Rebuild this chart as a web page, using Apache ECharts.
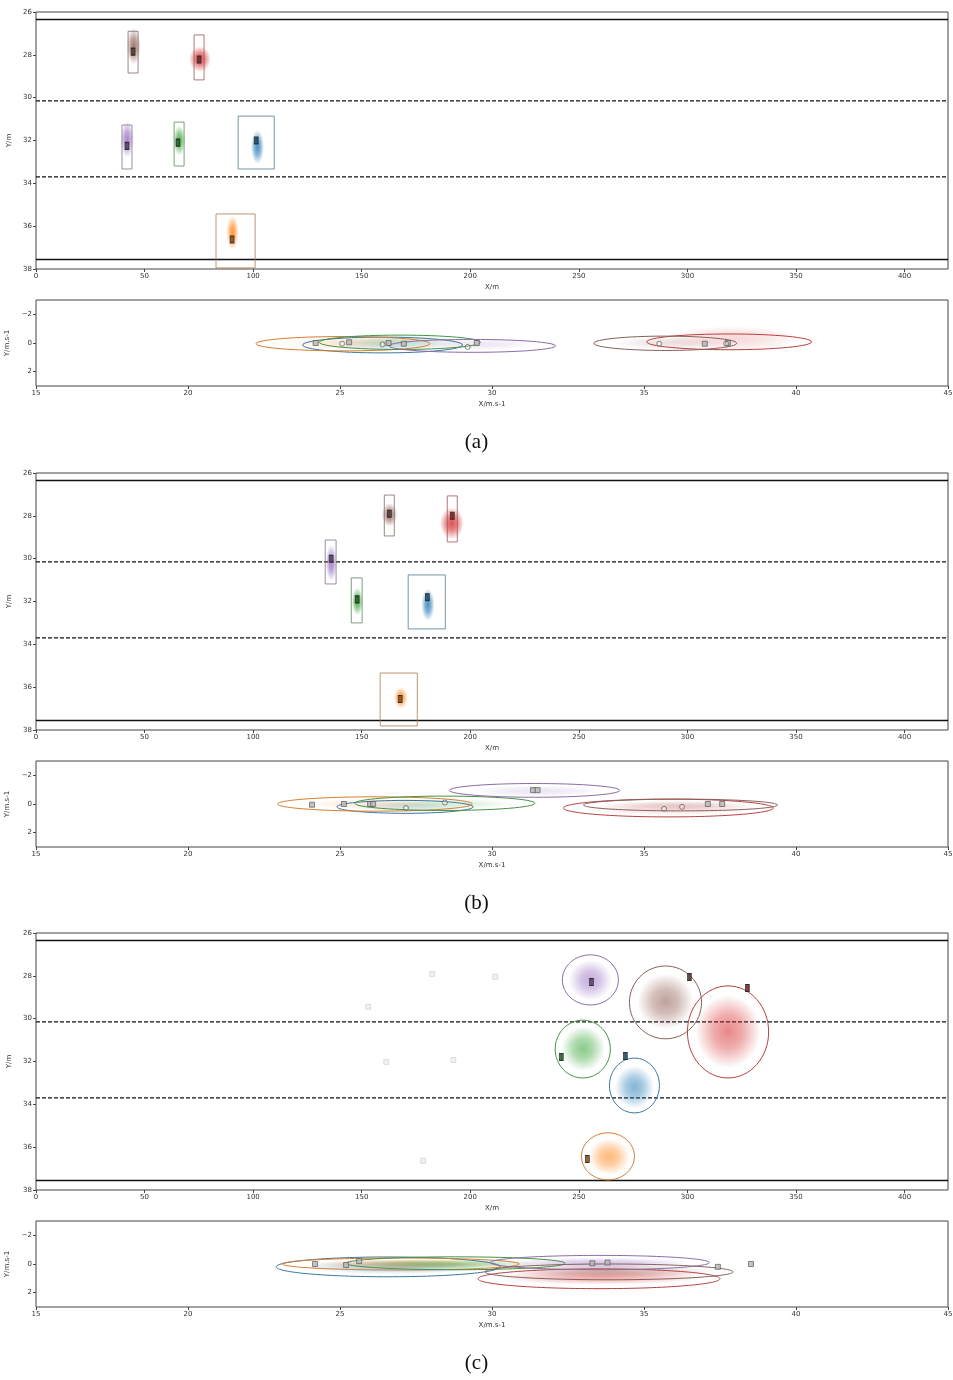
<!DOCTYPE html>
<html><head><meta charset="utf-8">
<script src="https://cdn.jsdelivr.net/npm/echarts@6/dist/echarts.min.js"></script>
<style>html,body{margin:0;padding:0;background:#fff}#c{width:953px;height:1380px}</style>
</head><body><div id="c"></div><script>
// ---------- data ----------
const objectNames  = ['blue','orange','green','red','purple','brown'];
const objectColors = ['#1f77b4','#ff7f0e','#2ca02c','#d62728','#9467bd','#8c564b'];
const panelCaptions = ['(a)','(b)','(c)'];
const posXRange = [0, 420];
const posYRange = [26, 38];
const velXRange = [15, 45];
const velYRange = [-3, 3];
const velYTicks = [-2, 0, 2];
const laneSolid  = [26.35, 37.56];
const laneDashed = [30.15, 33.70];

// panel (a) : positions (objectNames order)
const aPosTruth = [[101.4,32.0],[90.3,36.62],[65.4,32.1],[75.1,28.22],[41.9,32.25],[44.7,27.85]];
const aPosBoxes = [[93.1,109.7,30.86,33.33],[82.9,100.9,35.43,37.95],[63.6,68.2,31.14,33.19],[72.8,77.4,27.07,29.17],[39.6,44.2,31.28,33.33],[42.4,47.0,26.9,28.85]];
const aPosCloud = [[102,32.3,3.0,0.8],[90.5,36.3,2.8,0.8],[66,32.0,2.8,0.7],[75.5,28.2,5.0,0.6],[42,31.95,3.0,0.85],[45,27.6,3.2,0.85]];
// panel (a) : velocities
const aVelEllipses = [[26.4,0.14,2.63,0.55],[25.1,0.05,2.86,0.5],[26.97,-0.05,2.65,0.5],[37.8,-0.08,2.71,0.55],[29.35,0.2,2.74,0.45],[35.7,0.02,2.35,0.5]];
const aVelCloud = [[26.6,0.1,2.0,0.5],[25.3,0.0,2.2,0.45],[27.0,-0.1,2.0,0.5],[37.9,-0.3,2.2,0.9],[29.5,0.1,2.0,0.4],[35.8,0.0,1.8,0.45]];
const aVelSquares = [[24.2,0.0],[25.3,-0.05],[26.6,0.0],[27.1,0.05],[29.5,0.0],[37.0,0.05],[37.76,0.0]];
const aVelCircles = [[25.07,0.05],[26.4,0.1],[29.2,0.28],[35.5,0.05],[37.7,0.05]];

// panel (b)
const bPosTruth = [[180.2,31.8],[167.7,36.55],[147.9,31.9],[191.7,28.0],[135.9,30.0],[162.7,27.9]];
const bPosBoxes = [[171.4,188.5,30.76,33.28],[158.5,175.6,35.34,37.81],[145.2,150.2,30.9,33.0],[189.4,194.0,27.07,29.22],[133.2,138.2,29.13,31.18],[160.4,165.0,27.03,28.94]];
const bPosCloud = [[180.5,32.15,3.0,0.75],[168,36.5,3.2,0.5],[148,32.0,2.6,0.65],[191.5,28.35,5.5,0.75],[136,30.2,2.6,0.85],[162.8,27.95,3.6,0.55]];
const bVelEllipses = [[27.14,0.2,2.24,0.45],[26.15,0.0,3.2,0.5],[28.45,-0.05,2.96,0.5],[35.8,0.28,3.45,0.62],[31.4,-0.95,2.8,0.48],[36.2,0.07,3.19,0.41]];
const bVelCloud = [[27.2,0.2,1.8,0.4],[26.2,0.0,2.4,0.4],[28.5,0.0,2.3,0.4],[35.9,0.3,2.8,0.5],[31.5,-0.9,2.2,0.4],[36.2,0.1,2.5,0.35]];
const bVelSquares = [[24.08,0.05],[25.13,0.0],[25.99,0.0],[26.09,0.0],[31.35,-0.97],[31.5,-0.97],[37.1,0.0],[37.57,0.0]];
const bVelCircles = [[27.17,0.28],[28.45,-0.1],[35.66,0.34],[36.25,0.2]];

// panel (c)
const cPosTruth = [[271.4,31.74],[253.9,36.55],[241.9,31.79],[327.6,28.57],[255.8,28.29],[300.9,28.05]];
const cPosEllipses = [[275.6,33.12,11.5,1.28],[263.4,36.43,12.2,1.10],[251.8,31.42,12.7,1.35],[318.7,30.62,18.7,2.15],[255.3,28.19,12.9,1.17],[289.9,29.24,16.6,1.70]];
const cPosCloud = [[275.6,33.2,9,1.0],[264,36.45,9.5,0.85],[252,31.4,10,1.05],[318.7,30.6,15,1.7],[255.3,28.2,10,0.95],[289.9,29.2,13,1.3]];
const cPosGhosts = [[182.5,27.91],[211.5,28.05],[153,29.45],[161.3,32.02],[192.2,31.93],[178.3,36.64]];
const cVelEllipses = [[26.58,0.2,3.68,0.69],[27.0,0.0,3.9,0.42],[28.8,-0.05,3.6,0.45],[33.52,1.03,3.98,0.69],[33.55,-0.1,3.6,0.5],[33.85,0.55,4.08,0.55]];
const cVelCloud = [[26.8,0.2,3.0,0.5],[27.2,0.0,3.2,0.35],[28.6,0.0,3.0,0.35],[33.6,0.9,3.4,0.55],[33.5,-0.05,3.0,0.4],[33.9,0.5,3.4,0.45]];
const cVelSquares = [[24.18,0.0],[25.2,0.07],[25.63,-0.2],[33.3,-0.05],[33.8,-0.1],[37.43,0.2],[38.52,0.0]];

// ---------- helpers ----------
function hexRgb(h){h=h.replace('#','');return [parseInt(h.substr(0,2),16),parseInt(h.substr(2,2),16),parseInt(h.substr(4,2),16)];}
function rgba(h,a){const c=hexRgb(h);return 'rgba('+c[0]+','+c[1]+','+c[2]+','+a+')';}
function mixTo(h,t,g){const c=hexRgb(h);return 'rgb('+c.map((v,i)=>Math.round(v*t+g[i]*(1-t))).join(',')+')';}
function mixGray(h,t){return mixTo(h,t,[120,120,120]);}

const panelTops = [12, 473, 933];
const posH = 257, velGap = 288, velH = 86, gLeft = 36, gWidth = 912;

const grids=[], xAxes=[], yAxes=[], series=[], titles=[];
const tickLbl = {fontSize:7, color:'#333', fontFamily:'DejaVu Sans', margin:4};
const nameStyle = {fontSize:7, color:'#333', fontFamily:'DejaVu Sans'};
function minus(v){return String(v).replace('-','\u2212');}

function addAxes(gi, isPos){
  grids.push({left:gLeft, width:gWidth, top: isPos? panelTops[Math.floor(gi/2)] : panelTops[Math.floor(gi/2)]+velGap, height: isPos? posH: velH,
    show:true, borderColor:'#444', borderWidth:1, backgroundColor:'transparent', containLabel:false, outerBoundsMode:'none'});
  const tick = {show:true, inside:false, length:3, lineStyle:{color:'#444'}};
  if(isPos){
    xAxes.push({gridIndex:gi, type:'value', min:posXRange[0], max:posXRange[1], interval:50, name:'X/m', nameLocation:'middle', nameGap:15, nameTextStyle:nameStyle,
      axisLine:{show:false, onZero:false}, axisTick:tick, splitLine:{show:false},
      axisLabel:Object.assign({showMaxLabel:false}, tickLbl)});
    yAxes.push({gridIndex:gi, type:'value', inverse:true, min:posYRange[0], max:posYRange[1], interval:2, name:'Y/m', nameLocation:'middle', nameGap:21, nameTextStyle:nameStyle,
      axisLine:{show:false, onZero:false}, axisTick:tick, splitLine:{show:false}, axisLabel:tickLbl});
  } else {
    xAxes.push({gridIndex:gi, type:'value', min:velXRange[0], max:velXRange[1], interval:5, name:'X/m.s-1', nameLocation:'middle', nameGap:15, nameTextStyle:nameStyle,
      axisLine:{show:false, onZero:false}, axisTick:tick, splitLine:{show:false}, axisLabel:tickLbl});
    yAxes.push({gridIndex:gi, type:'value', inverse:true, min:velYRange[0], max:velYRange[1], interval:1, name:'Y/m.s-1', nameLocation:'middle', nameGap:21, nameTextStyle:nameStyle,
      axisLine:{show:false, onZero:false}, axisTick:Object.assign({customValues:velYTicks}, tick), splitLine:{show:false},
      axisLabel:Object.assign({customValues:velYTicks, formatter:minus}, tickLbl)});
  }
}

function laneSeries(gi){
  const data = laneSolid.map(y=>[y,0]).concat(laneDashed.map(y=>[y,1]));
  return {type:'custom', xAxisIndex:gi, yAxisIndex:gi, silent:true, z:1, data:data, encode:{y:0},
    renderItem:(p,api)=>{const cs=p.coordSys; const y=api.coord([0,api.value(0)])[1]; const dashed=api.value(1)===1;
      return {type:'line', shape:{x1:cs.x, y1:y, x2:cs.x+cs.width, y2:y}, style:{stroke:'#111', lineWidth:dashed?1.2:1.5, lineDash:dashed?[4,2]:null}};}};
}
function cloudSeries(gi, arr, alpha){
  return {type:'custom', xAxisIndex:gi, yAxisIndex:gi, silent:true, z:2, data:arr.map((d,i)=>d.concat([i])),
    renderItem:(p,api)=>{const c=api.coord([api.value(0),api.value(1)]); const e=api.coord([api.value(0)+api.value(2),api.value(1)+api.value(3)]);
      const col=objectColors[api.value(4)];
      const rx=Math.max(1,Math.abs(e[0]-c[0])), ry=Math.max(1,Math.abs(e[1]-c[1]));
      return {type:'circle', x:c[0], y:c[1], scaleX:1, scaleY:ry/rx, shape:{cx:0, cy:0, r:rx},
        style:{fill:{type:'radial', x:0.5, y:0.5, r:0.5, colorStops:[{offset:0,color:rgba(col,alpha)},{offset:0.45,color:rgba(col,alpha*0.7)},{offset:1,color:rgba(col,0)}]}}};}};
}
function ellipseSeries(gi, arr, lw){
  return {type:'custom', xAxisIndex:gi, yAxisIndex:gi, silent:true, z:3, data:arr.map((d,i)=>d.concat([i])),
    renderItem:(p,api)=>{const c=api.coord([api.value(0),api.value(1)]); const e=api.coord([api.value(0)+api.value(2),api.value(1)+api.value(3)]);
      const col=objectColors[api.value(4)];
      return {type:'ellipse', shape:{cx:c[0], cy:c[1], rx:Math.abs(e[0]-c[0]), ry:Math.abs(e[1]-c[1])},
        style:{fill:'none', stroke:mixGray(col,0.7), lineWidth:lw}};}};
}
function boxSeries(gi, arr){
  return {type:'custom', xAxisIndex:gi, yAxisIndex:gi, silent:true, z:3, data:arr.map((d,i)=>d.concat([i])),
    renderItem:(p,api)=>{const a=api.coord([api.value(0),api.value(2)]); const b=api.coord([api.value(1),api.value(3)]);
      const col=objectColors[api.value(4)];
      return {type:'rect', shape:{x:Math.min(a[0],b[0]), y:Math.min(a[1],b[1]), width:Math.abs(b[0]-a[0]), height:Math.abs(b[1]-a[1])},
        style:{fill:'none', stroke:mixGray(col,0.4), lineWidth:0.8}};}};
}
function truthSeries(gi, arr){
  return {type:'scatter', xAxisIndex:gi, yAxisIndex:gi, silent:true, z:5, symbol:'rect', symbolSize:[4,7],
    data:arr.map((d,i)=>({value:d, itemStyle:{color:mixTo(objectColors[i],0.45,[40,40,40]), borderColor:'#222', borderWidth:0.8, opacity:0.9}}))};
}
function markerSeries(gi, arr, sym, op){
  return {type:'scatter', xAxisIndex:gi, yAxisIndex:gi, silent:true, z:6, symbol:sym, symbolSize:5,
    data:arr, itemStyle:{color: sym==='rect'?'#b8b8b8':'rgba(255,255,255,0.3)', borderColor:'#555', borderWidth:0.8, opacity:op}};
}

// build panels
const P = [
  {posTruth:aPosTruth, boxes:aPosBoxes, posCloud:aPosCloud, velEll:aVelEllipses, velCloud:aVelCloud, sq:aVelSquares, ci:aVelCircles},
  {posTruth:bPosTruth, boxes:bPosBoxes, posCloud:bPosCloud, velEll:bVelEllipses, velCloud:bVelCloud, sq:bVelSquares, ci:bVelCircles},
  {posTruth:cPosTruth, ellipses:cPosEllipses, posCloud:cPosCloud, ghosts:cPosGhosts, velEll:cVelEllipses, velCloud:cVelCloud, sq:cVelSquares, ci:[]}
];
P.forEach((pn,k)=>{
  const gp=2*k, gv=2*k+1;
  addAxes(gp,true); addAxes(gv,false);
  series.push(laneSeries(gp));
  series.push(cloudSeries(gp, pn.posCloud, k===2?0.55:0.8));
  if(pn.boxes) series.push(boxSeries(gp, pn.boxes));
  if(pn.ellipses) series.push(ellipseSeries(gp, pn.ellipses, 1));
  if(pn.ghosts) series.push(markerSeries(gp, pn.ghosts, 'rect', 0.2));
  series.push(truthSeries(gp, pn.posTruth));
  series.push(cloudSeries(gv, pn.velCloud, k===2?0.4:0.18));
  series.push(ellipseSeries(gv, pn.velEll, 1));
  series.push(markerSeries(gv, pn.sq, 'rect', 0.85));
  if(pn.ci.length) series.push(markerSeries(gv, pn.ci, 'circle', 0.85));
  titles.push({text:panelCaptions[k], left:'center', top:panelTops[k]+415,
    textStyle:{fontFamily:'Liberation Serif', fontSize:21, fontWeight:'normal', color:'#111'}});
});

const chart = echarts.init(document.getElementById('c'), null, {renderer:'canvas'});
chart.setOption({animation:false, backgroundColor:'#fff', title:titles, grid:grids, xAxis:xAxes, yAxis:yAxes, series:series});
</script></body></html>
